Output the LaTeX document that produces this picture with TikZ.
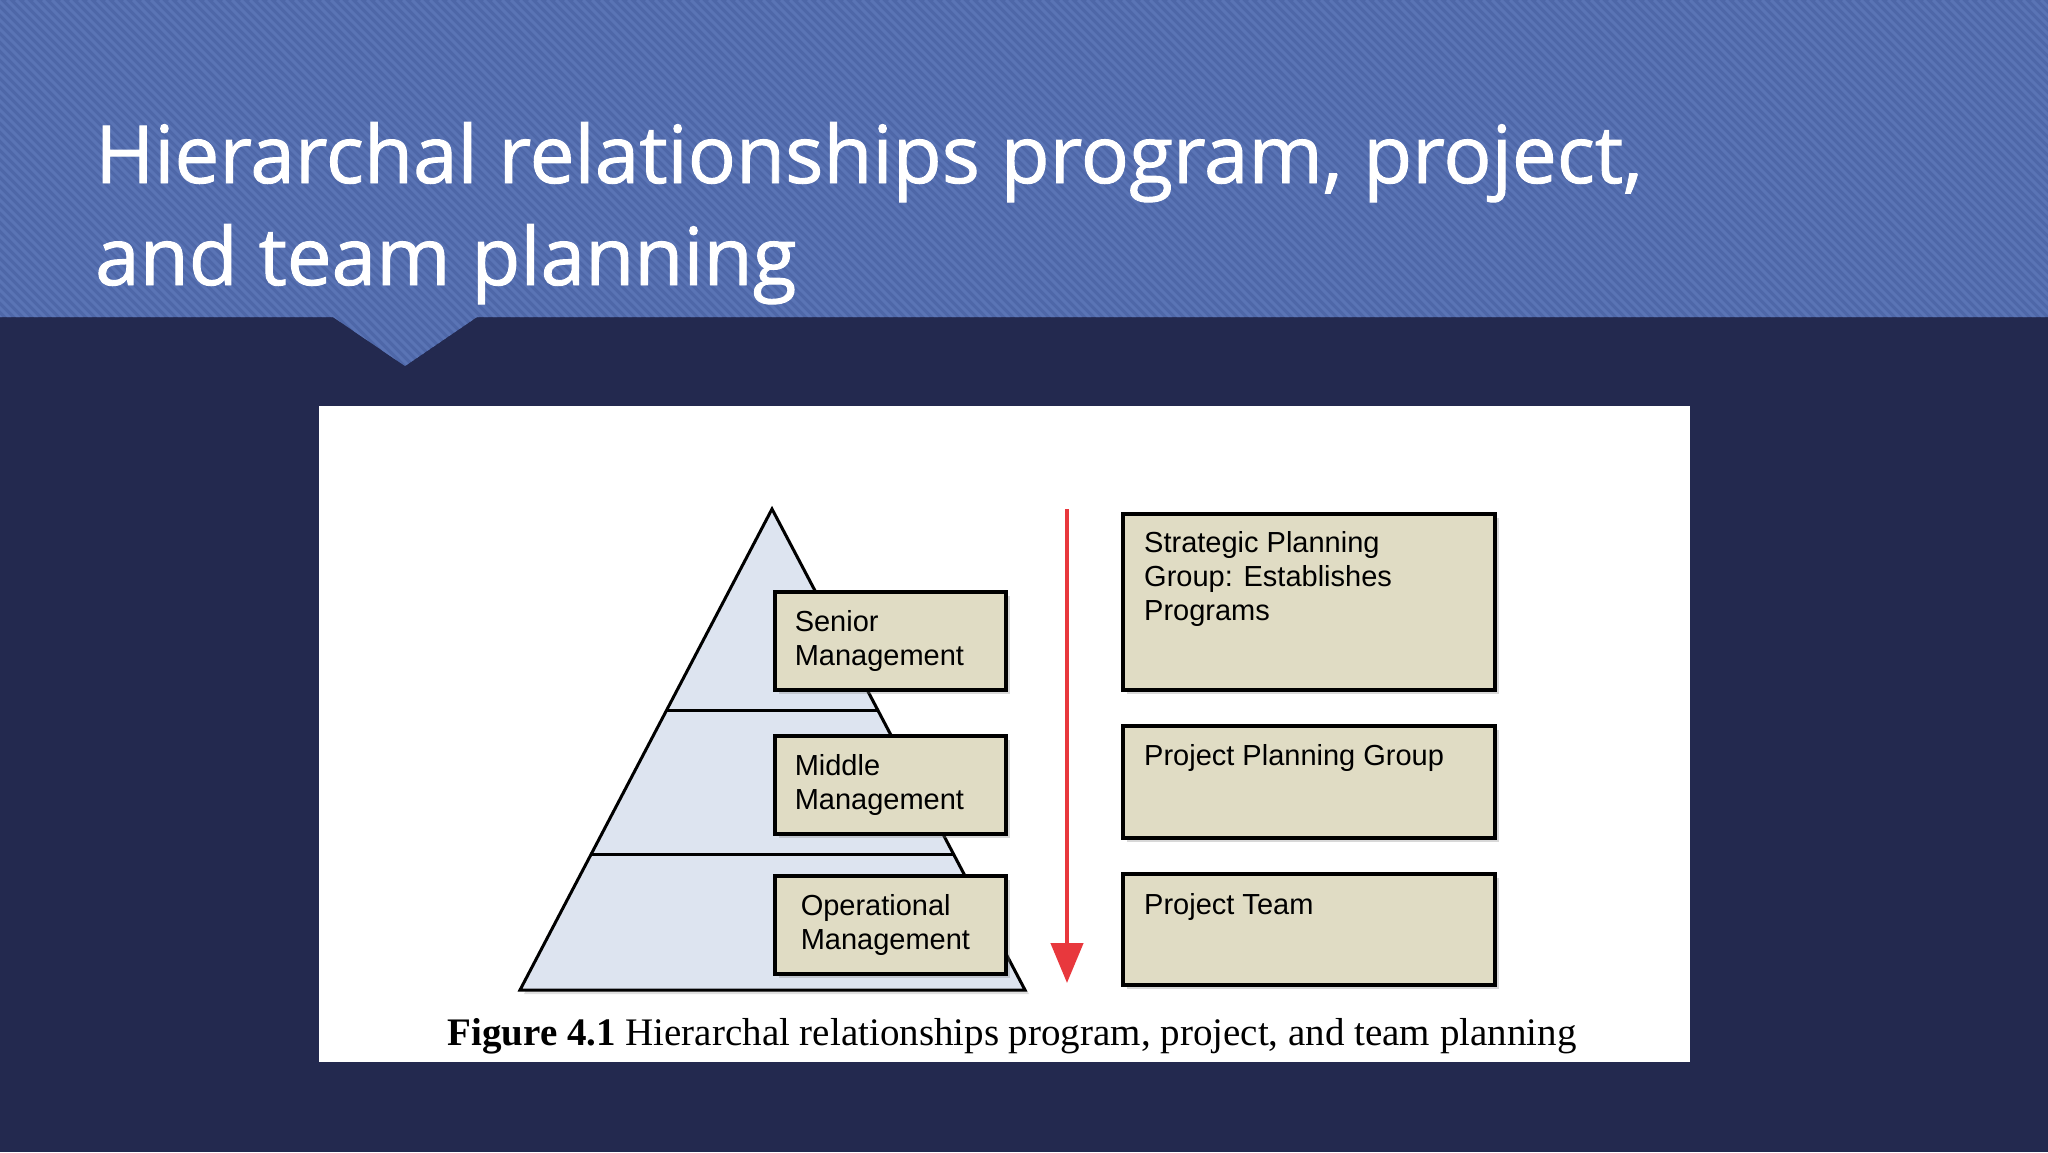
\documentclass[tikz,border=0pt]{standalone}
\usepackage{fontspec}
\setmainfont{Liberation Serif}
\newfontfamily\titlefont[FakeBold=1.2]{Open Sans}
\newfontfamily\boxfont{Liberation Sans}
\usetikzlibrary{arrows.meta,shadows,calc}
\definecolor{navy}{RGB}{35,41,79}
\definecolor{bandblue}{RGB}{78,103,168}
\definecolor{stripeblue}{RGB}{90,116,181}
\definecolor{pyrfill}{RGB}{221,228,240}
\definecolor{boxfill}{RGB}{224,220,196}
\definecolor{arrowred}{RGB}{232,56,61}
\tikzstyle{titletext}=[white,anchor=base west,inner sep=0pt,font=\titlefont\fontsize{80}{96}\selectfont]
\tikzstyle{levelbox}=[draw=black,line width=3.5pt,fill=boxfill,anchor=north west,minimum width=231pt,minimum height=98pt,text width=191pt,inner xsep=20pt,align=left,font=\boxfont\fontsize{29}{34}\selectfont,drop shadow={shadow xshift=4pt,shadow yshift=-4pt,opacity=0.3}]
\tikzstyle{planbox}=[draw=black,line width=3.5pt,fill=boxfill,anchor=north west,minimum width=372pt,drop shadow={shadow xshift=4pt,shadow yshift=-4pt,opacity=0.3}]
\tikzstyle{plantext}=[anchor=north west,align=left,inner sep=0pt,font=\boxfont\fontsize{29}{34}\selectfont]

\begin{document}
\begin{tikzpicture}[x=1pt,y=-1pt]
	\useasboundingbox (0,0) rectangle (2048,1152);
	%background
	\fill[navy] (0,0) rectangle (2048,1152);
	\begin{scope}
		\clip (0,0) -- (2048,0) -- (2048,317) -- (477,317) -- (405,366) -- (333,317) -- (0,317) -- cycle;
		\fill[bandblue] (0,0) rectangle (2048,370);
		\foreach \s in {-380,-371,...,2048}
		\draw[stripeblue,line width=3pt] (\s,0) -- ++(380,380);
	\end{scope}
	%title
	\node[titletext] (title1) at (95,183) {Hierarchal relationships program, project,};
	\node[titletext] (title2) at (95,285) {and team planning};
	%figure panel
	\fill[white] (319,406) rectangle (1690,1062);
	%pyramid
	\coordinate (apex) at (772,509);
	\coordinate (baseL) at (520,990);
	\coordinate (baseR) at (1025,990);
	\draw[line width=3pt,fill=pyrfill,line join=miter,drop shadow={shadow xshift=4pt,shadow yshift=-4pt,opacity=0.25}]
	(apex) -- (baseL) -- (baseR) -- cycle;
	\draw[line width=3pt] ($(apex)!0.418!(baseL)$) -- ($(apex)!0.418!(baseR)$);
	\draw[line width=3pt] ($(apex)!0.719!(baseL)$) -- ($(apex)!0.719!(baseR)$);
	%levels
	\node[levelbox] (senior) at (773,590) {Senior\\Management};
	\node[levelbox] (middle) at (773,734) {Middle\\Management};
	\node[levelbox,inner xsep=26pt,text width=179pt] (oper) at (773,874) {Operational\\Management};
	%arrow
	\coordinate (arrtop) at (1067,509);
	\coordinate (arrtip) at (1067,983);
	\draw[arrowred,line width=4.5pt,-{Triangle[length=40pt,width=32pt]}] (arrtop) -- (arrtip);
	%planning groups
	\node[planbox,minimum height=176pt] (strat) at (1121,512) {};
	\node[planbox,minimum height=112pt] (projgroup) at (1121,724) {};
	\node[planbox,minimum height=111pt] (team) at (1121,872) {};
	\node[plantext] (strattext) at ($(strat.north west)+(23,19)$) {Strategic Planning\\Group: Establishes\\Programs};
	\node[plantext] (projtext) at ($(projgroup.north west)+(23,20)$) {Project Planning Group};
	\node[plantext] (teamtext) at ($(team.north west)+(23,21)$) {Project Team};
	%caption
	\node[anchor=base,inner sep=0pt,font=\fontsize{39}{44}\selectfont] (caption) at (1012,1045)
	{\textbf{Figure 4.1} Hierarchal relationships program, project, and team planning};
\end{tikzpicture}
\end{document}
